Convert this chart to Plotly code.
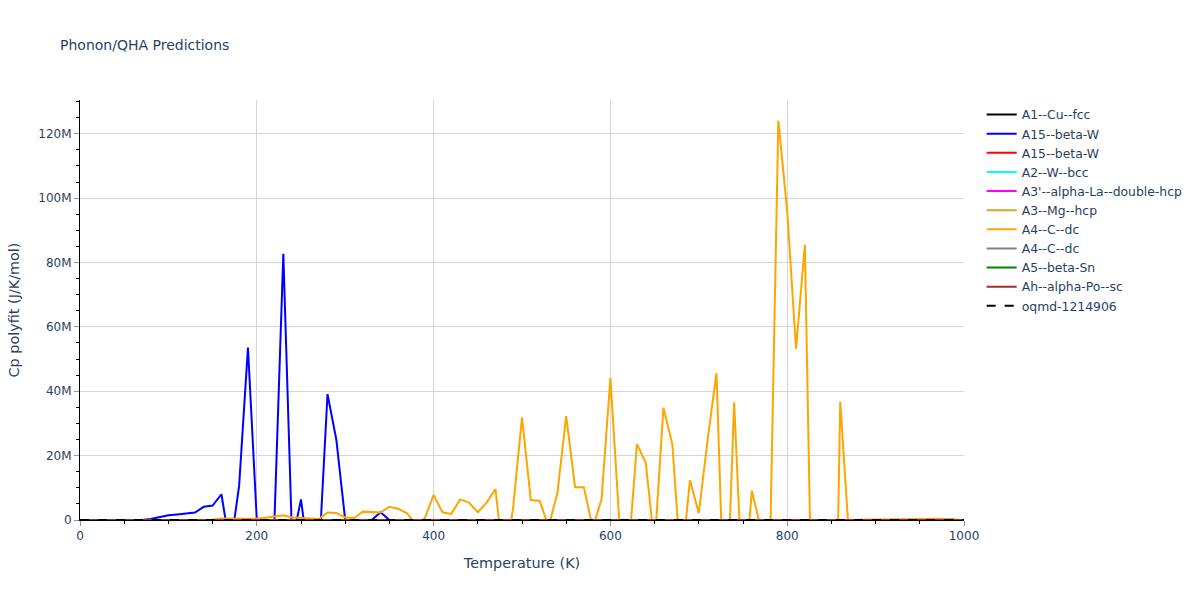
import plotly.graph_objects as go

# Temperature grid (K)
T = list(range(0, 1001, 10))

# A15--beta-W (blue), values in J/K/mol, 0..1000 K
blue_vals = [0, 0, 0, 0, 0, 0, 0, 0, 0.3e6, 0.9e6,
             1.45e6, 1.7e6, 2.0e6, 2.3e6, 4.1e6, 4.5e6, 8.0e6, -9e6, 10.6e6, 53.6e6,
             0, 0, 0, 82.7e6, -7e6, 6.4e6, -15e6, -13e6, 39.1e6, 24.9e6,
             0, 0, 0, 0, 2.4e6, 0, 0, 0, 0, 0,
             0, 0, 0, 0, 0, 0, 0, 0, 0, 0,
             0, 0, 0, 0, 0, 0, 0, 0, 0, 0,
             0, 0, 0, 0, 0, 0, 0, 0, 0, 0,
             0, 0, 0, 0, 0, 0, 0, 0, 0, 0,
             0, 0, 0, 0, 0, 0, 0, 0, 0, 0,
             0, 0, 0, 0, 0, 0, 0, 0, 0, 0, 0]

# A4--C--dc (orange), 0..990 K
T_orange = list(range(0, 991, 10))
orange_vals = [0, 0, 0, 0, 0, 0, 0, 0, 0, 0,
               0, 0.05e6, 0.08e6, 0.1e6, 0.1e6, 0.1e6, 0.5e6, 0.5e6, 0.6e6, 0.6e6,
               0.4e6, 0.7e6, 1.1e6, 1.5e6, 0.8e6, 0.6e6, 0.4e6, 0.3e6, 2.3e6, 2.2e6,
               0.8e6, 0.6e6, 2.6e6, 2.5e6, 2.3e6, 4.1e6, 3.5e6, 2.1e6, -1.5e6, 0.5e6,
               7.8e6, 2.4e6, 1.9e6, 6.4e6, 5.4e6, 2.4e6, 5.4e6, 9.6e6, -15e6, 4e6,
               31.9e6, 6.2e6, 5.9e6, -2e6, 8.3e6, 32.3e6, 10.2e6, 10.2e6, -2.6e6, 6.5e6,
               44.2e6, 0, -12e6, 23.6e6, 17.8e6, -8e6, 34.9e6, 23.6e6, -15e6, 12.4e6,
               2.1e6, 25e6, 45.6e6, -40e6, 36.6e6, -25e6, 9.1e6, -2.4e6, -17e6, 124.1e6,
               96e6, 53.2e6, 85.5e6, -64e6, -90e6, -120e6, 36.7e6, -5.5e6, 0.1e6, 0.15e6,
               0.2e6, 0.2e6, 0.25e6, 0.3e6, 0.25e6, 0.3e6, 0.3e6, 0.35e6, 0.3e6, 0.3e6]

# Near-zero series (ordinary Cp values, J/K/mol)
T_small = [0, 50, 100, 150, 200, 300, 400, 500, 600, 700, 800, 900, 1000]
cu_vals = [0, 5, 16, 21, 23, 24.5, 25.3, 25.9, 26.5, 27.1, 27.7, 28.3, 29]
w_red_vals = [0, 6, 17, 21, 23, 24.4, 25.1, 25.6, 26.2, 26.8, 27.4, 28, 28.6]
w_bcc_vals = [0, 4, 14, 20, 22.5, 24.2, 25, 25.5, 26, 26.5, 27, 27.5, 28]
la_vals = [0, 15, 22, 24, 25, 26, 26.8, 27.6, 28.4, 29.2, 30, 30.8, 31.6]
mg_vals = [0, 8, 18, 21.5, 23, 24.6, 25.5, 26.2, 26.9, 27.6, 28.3, 29, 29.7]
c_gray_vals = [0, 0.5, 2, 4.5, 7.5, 12, 15.5, 18, 19.8, 21, 21.9, 22.5, 23]
sn_vals = [0, 17, 22.5, 24.5, 25.5, 26.5, 27.3, 28, 28.7, 29.4, 30.1, 30.8, 31.5]
po_vals = [0, 18, 23, 24.8, 25.6, 26.4, 27.1, 27.8, 28.5, 29.2, 29.9, 30.6, 31.3]
oqmd_vals = [0, 7, 17.5, 21.5, 23.2, 24.6, 25.3, 25.9, 26.5, 27.1, 27.7, 28.3, 28.9]

fig = go.Figure()
fig.add_trace(go.Scatter(x=T_small, y=cu_vals, mode="lines", name="A1--Cu--fcc",
                         line=dict(color="black", width=2)))
fig.add_trace(go.Scatter(x=T, y=blue_vals, mode="lines", name="A15--beta-W",
                         line=dict(color="blue", width=2)))
fig.add_trace(go.Scatter(x=T_small, y=w_red_vals, mode="lines", name="A15--beta-W",
                         line=dict(color="red", width=2)))
fig.add_trace(go.Scatter(x=T_small, y=w_bcc_vals, mode="lines", name="A2--W--bcc",
                         line=dict(color="cyan", width=2)))
fig.add_trace(go.Scatter(x=T_small, y=la_vals, mode="lines", name="A3'--alpha-La--double-hcp",
                         line=dict(color="magenta", width=2)))
fig.add_trace(go.Scatter(x=T_small, y=mg_vals, mode="lines", name="A3--Mg--hcp",
                         line=dict(color="goldenrod", width=2)))
fig.add_trace(go.Scatter(x=T_orange, y=orange_vals, mode="lines", name="A4--C--dc",
                         line=dict(color="orange", width=2)))
fig.add_trace(go.Scatter(x=T_small, y=c_gray_vals, mode="lines", name="A4--C--dc",
                         line=dict(color="gray", width=2)))
fig.add_trace(go.Scatter(x=T_small, y=sn_vals, mode="lines", name="A5--beta-Sn",
                         line=dict(color="green", width=2)))
fig.add_trace(go.Scatter(x=T_small, y=po_vals, mode="lines", name="Ah--alpha-Po--sc",
                         line=dict(color="brown", width=2)))
fig.add_trace(go.Scatter(x=T_small, y=oqmd_vals, mode="lines", name="oqmd-1214906",
                         line=dict(color="black", width=2, dash="dash")))

fig.update_layout(
    template="plotly_white",
    width=1200, height=600,
    font=dict(family="Verdana, DejaVu Sans, sans-serif"),
    title=dict(text="Phonon/QHA Predictions", font=dict(size=14)),
    legend=dict(font=dict(size=12.4)),
    plot_bgcolor="white",
    margin=dict(l=80, r=80, t=100, b=80),
)
fig.update_xaxes(
    title_text="Temperature (K)", title_font=dict(size=14.4),
    range=[0, 1000], dtick=200,
    showgrid=True, gridcolor="#d6d6d6", zeroline=False,
    showline=True, linecolor="black", linewidth=1,
    ticks="outside", ticklen=5, tickcolor="#999999",
    minor=dict(dtick=50, ticks="outside", ticklen=3, tickcolor="black", showgrid=False),
)
fig.update_yaxes(
    title_text="Cp polyfit (J/K/mol)", title_font=dict(size=14.4),
    range=[0, 130.5e6], dtick=20e6,
    showgrid=True, gridcolor="#d6d6d6", zeroline=False,
    showline=True, linecolor="black", linewidth=1,
    ticks="outside", ticklen=5, tickcolor="#999999",
    minor=dict(dtick=5e6, ticks="outside", ticklen=3, tickcolor="black", showgrid=False),
)

fig.write_html("out.html", config={"displayModeBar": False},
               post_script="document.body.style.margin='0';")
